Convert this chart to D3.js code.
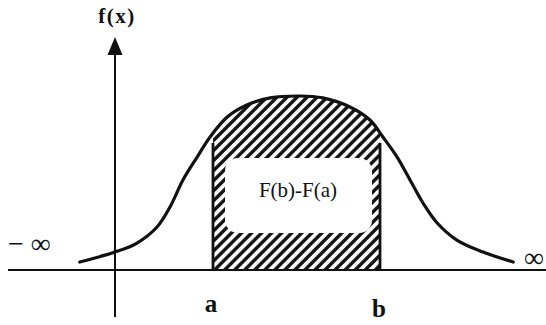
<!DOCTYPE html>
<html>
<head>
<meta charset="utf-8">
<script src="https://cdn.jsdelivr.net/npm/d3@7"></script>
<style>
  html, body { margin: 0; padding: 0; background: #fff; }
  svg { display: block; }
  text { font-family: "Liberation Serif", "Times New Roman", serif; fill: #111; }
</style>
</head>
<body>
<svg id="chart" width="546" height="325"></svg>
<script>
// density curve (x in units, a = -2, b = 2; peak = 1)
const curveX = [-5.19, -4.35, -3.82, -3.34, -3.03, -2.72, -2.38, -2.07, -1.66, -1.19, -0.63, 0.08,
  0.63, 1.28, 1.76, 2.07, 2.41, 2.72, 3.03, 3.37, 3.84, 4.47, 5.19];
const curveY = [0.046, 0.103, 0.155, 0.247, 0.362, 0.517, 0.649, 0.764, 0.879, 0.948, 0.989, 1.0,
  0.989, 0.937, 0.862, 0.764, 0.649, 0.517, 0.385, 0.270, 0.172, 0.103, 0.046];

const bounds = [-2, 2];
const boundLabels = ['a', 'b'];
const boundTop = 0.73;          // where the a/b verticals stop
const tailLabels = ['\u2212 \u221E', '\u221E'];
const areaLabel = 'F(b)-F(a)';
const axisLabel = 'f(x)';

const svg = d3.select('#chart');

const x = d3.scaleLinear().domain(bounds).range([213, 380]);
const y = d3.scaleLinear().domain([0, 1]).range([270, 96]);

const points = curveX.map((v, i) => [v, curveY[i]]);

// hatch pattern + clip for the region between a and b
const defs = svg.append('defs');
defs.append('pattern')
    .attr('id', 'hatch')
    .attr('patternUnits', 'userSpaceOnUse')
    .attr('width', 7.1)
    .attr('height', 7.1)
    .attr('patternTransform', 'rotate(45)')
  .append('line')
    .attr('x1', 1.8).attr('y1', 0)
    .attr('x2', 1.8).attr('y2', 7.1)
    .attr('stroke', '#111')
    .attr('stroke-width', 3.4);

defs.append('clipPath')
    .attr('id', 'between')
  .append('rect')
    .attr('x', x(bounds[0]))
    .attr('y', 0)
    .attr('width', x(bounds[1]) - x(bounds[0]))
    .attr('height', y(0));

const curve = d3.curveCatmullRom.alpha(0.5);

svg.append('path')
    .datum(points)
    .attr('clip-path', 'url(#between)')
    .attr('fill', 'url(#hatch)')
    .attr('d', d3.area().x((d) => x(d[0])).y0(y(0)).y1((d) => y(d[1])).curve(curve));

// white label box
svg.append('rect')
    .attr('x', 225)
    .attr('y', 158)
    .attr('width', 147)
    .attr('height', 75)
    .attr('rx', 13)
    .attr('fill', '#fff');

svg.append('text')
    .attr('x', 298)
    .attr('y', 197)
    .attr('text-anchor', 'middle')
    .attr('font-size', 21)
    .text(areaLabel);

// axes
svg.append('line')
    .attr('x1', 8).attr('x2', 546)
    .attr('y1', y(0)).attr('y2', y(0))
    .attr('stroke', '#111')
    .attr('stroke-width', 2);

const axisX = 115;
svg.append('line')
    .attr('x1', axisX).attr('x2', axisX)
    .attr('y1', 317).attr('y2', 52)
    .attr('stroke', '#111')
    .attr('stroke-width', 2);

svg.append('path')
    .attr('d', `M${axisX},37 L${axisX - 7.5},55 L${axisX + 7.5},55 Z`)
    .attr('fill', '#111');

svg.append('text')
    .attr('x', axisX + 2)
    .attr('y', 23)
    .attr('text-anchor', 'middle')
    .attr('font-size', 21)
    .attr('font-weight', 'bold')
    .attr('letter-spacing', 1.5)
    .text(axisLabel);

// a / b verticals
svg.selectAll('.bound')
  .data(bounds)
  .enter()
  .append('line')
    .attr('class', 'bound')
    .attr('x1', (d) => x(d)).attr('x2', (d) => x(d))
    .attr('y1', y(0)).attr('y2', y(boundTop))
    .attr('stroke', '#111')
    .attr('stroke-width', 2.8);

svg.selectAll('.bound-label')
  .data(bounds)
  .enter()
  .append('text')
    .attr('class', 'bound-label')
    .attr('x', (d) => x(d) - 2 + (d > 0 ? 1 : 0))
    .attr('y', (d, i) => (i === 0 ? 312 : 317))
    .attr('text-anchor', 'middle')
    .attr('font-size', 25)
    .attr('font-weight', 'bold')
    .text((d, i) => boundLabels[i]);

// the curve itself
svg.append('path')
    .datum(points)
    .attr('fill', 'none')
    .attr('stroke', '#111')
    .attr('stroke-width', 3.2)
    .attr('stroke-linecap', 'round')
    .attr('d', d3.line().x((d) => x(d[0])).y((d) => y(d[1])).curve(curve));

// tails
svg.append('text')
    .attr('x', 8)
    .attr('y', 243)
    .attr('dominant-baseline', 'central')
    .attr('font-size', 28)
    .attr('fill', '#333')
    .text(tailLabels[0]);

svg.append('text')
    .attr('x', 524)
    .attr('y', 257)
    .attr('dominant-baseline', 'central')
    .attr('font-size', 28)
    .attr('fill', '#333')
    .text(tailLabels[1]);
</script>
</body>
</html>
